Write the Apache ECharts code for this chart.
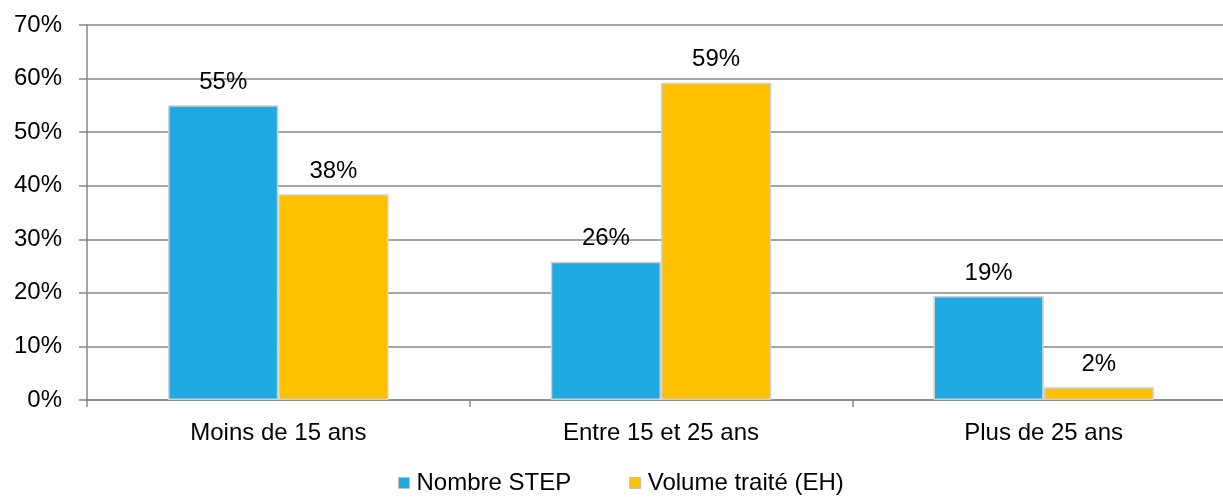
<!DOCTYPE html>
<html><head><meta charset="utf-8">
<script src="https://cdn.jsdelivr.net/npm/echarts@6/dist/echarts.min.js"></script>
<style>html,body{margin:0;padding:0;background:#fff;overflow:hidden}#c{width:1223px;height:497px}</style>
</head><body><div id="c"></div>
<script>
const categories = ['Moins de 15 ans', 'Entre 15 et 25 ans', 'Plus de 25 ans'];
const nombreStep = [55.0, 25.8, 19.4];
const volumeTraite = [38.4, 59.2, 2.4];
const yTicks = [0, 10, 20, 30, 40, 50, 60, 70];

const chart = echarts.init(document.getElementById('c'));
const font = 'Liberation Sans, Arial, sans-serif';
const lbl = {show: true, position: 'top', distance: 11, color: '#000', fontSize: 24, fontFamily: font,
  formatter: p => Math.round(p.value) + '%'};
chart.setOption({
  animation: false,
  grid: {left: 87, right: -12, top: 25, bottom: 97, outerBoundsMode: 'none', containLabel: false},
  legend: {
    top: 466, left: 393, itemWidth: 11, itemHeight: 11, itemGap: 58,
    icon: 'rect',
    textStyle: {fontSize: 24, fontFamily: font, color: '#000', padding: [2, 0, 0, 2]},
    data: [
      {name: 'Nombre STEP', itemStyle: {borderColor: '#bfbfbf', borderWidth: 1}},
      {name: 'Volume traité (EH)', itemStyle: {borderColor: '#bfbfbf', borderWidth: 1}}
    ]
  },
  xAxis: {
    type: 'category', data: categories,
    axisLine: {lineStyle: {color: '#868686', width: 1.5}},
    axisTick: {show: true, length: 7, lineStyle: {color: '#868686', width: 1.5}},
    axisLabel: {fontSize: 24, fontFamily: font, color: '#000', margin: 21}
  },
  yAxis: {
    type: 'value', min: 0, max: 70, interval: 10,
    axisLine: {show: true, lineStyle: {color: '#868686', width: 1.5}},
    axisTick: {show: true, length: 8, inside: false, lineStyle: {color: '#868686', width: 1.5}},
    splitLine: {lineStyle: {color: '#868686', width: 1.5}},
    axisLabel: {fontSize: 24, fontFamily: font, color: '#000', margin: 25,
      formatter: v => yTicks.includes(v) ? v + '%' : ''}
  },
  series: [
    {name: 'Nombre STEP', type: 'bar', data: nombreStep, barWidth: '28.8%', barGap: '0%',
      itemStyle: {color: '#1fabe2', borderColor: '#d0d0d0', borderWidth: 1.5}, label: lbl},
    {name: 'Volume traité (EH)', type: 'bar', data: volumeTraite, barWidth: '28.8%', barGap: '0%',
      itemStyle: {color: '#ffc000', borderColor: '#d0d0d0', borderWidth: 1.5}, label: lbl}
  ]
});
</script></body></html>
